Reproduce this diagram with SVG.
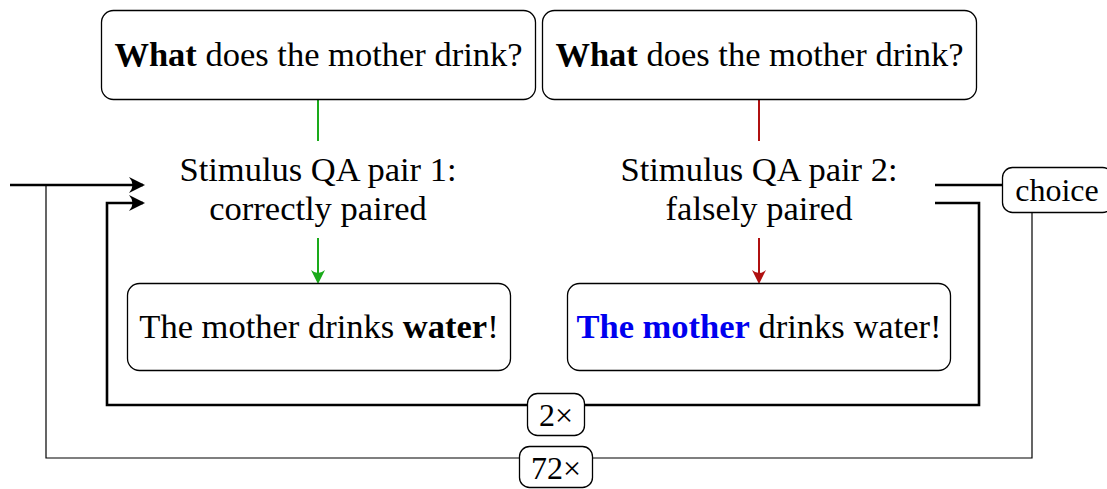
<svg xmlns="http://www.w3.org/2000/svg" width="1107" height="489" viewBox="0 0 1107 489">
<style>
.box{fill:#fff;stroke:#000;stroke-width:1.3}
.t{font-family:"Liberation Serif",serif;font-size:34.5px;fill:#000;text-anchor:middle}
.s{font-family:"Liberation Serif",serif;font-size:32px;fill:#000;text-anchor:middle}
.thick{fill:none;stroke:#000;stroke-width:2.6}
.thin{fill:none;stroke:#000;stroke-width:1.2}
</style>
<defs>
<marker id="ag" markerWidth="14" markerHeight="14" refX="12" refY="7" orient="auto" markerUnits="userSpaceOnUse" viewBox="0 0 14 14"><path d="M0,0 Q6,7 0,14 L14,7 Z" fill="#1aaa1a"/></marker>
<marker id="ar" markerWidth="14" markerHeight="14" refX="12" refY="7" orient="auto" markerUnits="userSpaceOnUse" viewBox="0 0 14 14"><path d="M0,0 Q6,7 0,14 L14,7 Z" fill="#b01010"/></marker>
<marker id="ab" markerWidth="16" markerHeight="16" refX="14" refY="8" orient="auto" markerUnits="userSpaceOnUse" viewBox="0 0 16 16"><path d="M0,0 Q7,8 0,16 L16,8 Z" fill="#000"/></marker>
</defs>
<g id="connectors">
<line x1="318" y1="99" x2="318" y2="141" stroke="#1aaa1a" stroke-width="2"/>
<line x1="318" y1="238" x2="318" y2="282" stroke="#1aaa1a" stroke-width="2" marker-end="url(#ag)"/>
<line x1="759" y1="99" x2="759" y2="141" stroke="#b01010" stroke-width="2"/>
<line x1="759" y1="238" x2="759" y2="282" stroke="#b01010" stroke-width="2" marker-end="url(#ar)"/>
<path class="thin" d="M46,185 V458 H1032 V212"/>
<line class="thick" x1="10" y1="185" x2="143" y2="185" marker-end="url(#ab)"/>
<path class="thick" d="M935,203 H979 V405 H107 V203 H143" marker-end="url(#ab)"/>
<line class="thick" x1="935" y1="185" x2="1002" y2="185"/>
</g>
<g id="q1"><rect class="box" x="101.5" y="10.5" width="434" height="89" rx="12"/><text class="t" x="318.5" y="66"><tspan font-weight="bold">What</tspan> does the mother drink?</text></g>
<g id="q2"><rect class="box" x="542.5" y="10.5" width="434" height="89" rx="12"/><text class="t" x="759.5" y="66"><tspan font-weight="bold">What</tspan> does the mother drink?</text></g>
<g id="pair1"><text class="t" x="318" y="181">Stimulus QA pair 1:</text><text class="t" x="318" y="220">correctly paired</text></g>
<g id="pair2"><text class="t" x="759" y="181">Stimulus QA pair 2:</text><text class="t" x="759" y="220">falsely paired</text></g>
<g id="a1"><rect class="box" x="127.5" y="283.5" width="383" height="87" rx="12"/><text class="t" x="319" y="338">The mother drinks <tspan font-weight="bold">water</tspan>!</text></g>
<g id="a2"><rect class="box" x="567.5" y="283.5" width="383" height="87" rx="12"/><text class="t" x="759" y="338"><tspan font-weight="bold" fill="#0000ee">The mother</tspan> drinks water!</text></g>
<g id="choice"><rect class="box" x="1002.5" y="167.5" width="110" height="45" rx="10"/><text class="s" x="1057" y="201">choice</text></g>
<g id="rep2"><rect class="box" x="527.5" y="393.5" width="57" height="42" rx="10"/><text class="s" x="556" y="426">2×</text></g>
<g id="rep72"><rect class="box" x="519.5" y="446.5" width="73" height="41" rx="10"/><text class="s" x="556" y="479">72×</text></g>
</svg>
